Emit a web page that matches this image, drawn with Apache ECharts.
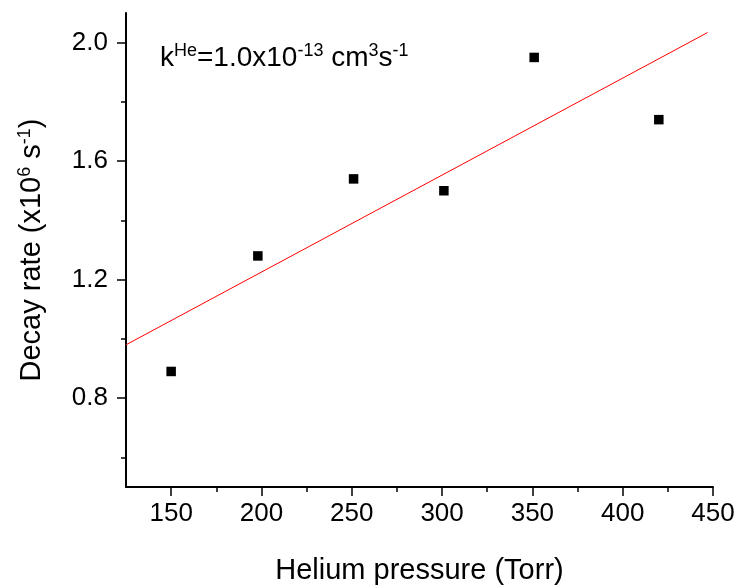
<!DOCTYPE html>
<html>
<head>
<meta charset="utf-8">
<script src="https://cdn.jsdelivr.net/npm/echarts@6/dist/echarts.min.js"></script>
<style>
html,body{margin:0;padding:0;background:#fff;}
#chart{width:739px;height:587px;}
</style>
</head>
<body>
<div id="chart"></div>
<script>
// Data
const pressure = [150, 198, 251, 301, 351, 420];
const decayRate = [0.89, 1.28, 1.54, 1.50, 1.95, 1.74];
const fitX = [125, 447];
const fitY = [0.98, 2.034];

const xMajorTicks = [150, 200, 250, 300, 350, 400, 450];
const xMinorTicks = [175, 225, 275, 325, 375, 425];
const yMajorTicks = [0.8, 1.2, 1.6, 2.0];
const yMinorTicks = [0.6, 1.0, 1.4, 1.8];

const FONT = '"Liberation Sans", Arial, sans-serif';

const scatterData = pressure.map((p, i) => [p, decayRate[i]]);
const fitData = fitX.map((x, i) => [x, fitY[i]]);

const chart = echarts.init(document.getElementById('chart'));
const axisLineStyle = {color: '#000', width: 2};
const tickStyle = {color: '#000', width: 1.5};

chart.setOption({
  animation: false,
  backgroundColor: '#fff',
  title: {
    text: 'k{sup|He}=1.0x10{sup|-13} cm{sup|3}s{sup|-1}',
    left: 160,
    top: 42,
    padding: 0,
    textStyle: {
      fontFamily: FONT, fontSize: 28, fontWeight: 'normal', color: '#000', lineHeight: 32,
      rich: {
        sup: {fontFamily: FONT, fontSize: 18, lineHeight: 14, verticalAlign: 'top', color: '#000'}
      }
    }
  },
  grid: {left: 126, right: 26, top: 13, bottom: 100, containLabel: false, outerBoundsMode: 'none'},
  xAxis: [
    {
      type: 'value', min: 125, max: 450, position: 'bottom',
      axisLine: {show: true, onZero: false, lineStyle: axisLineStyle},
      axisTick: {show: true, length: 9, customValues: xMajorTicks, lineStyle: tickStyle},
      axisLabel: {customValues: xMajorTicks, fontFamily: FONT, fontSize: 26, color: '#000', margin: 14},
      splitLine: {show: false},
      name: 'Helium pressure (Torr)', nameLocation: 'middle', nameGap: 69,
      nameTextStyle: {fontFamily: FONT, fontSize: 29, color: '#000'}
    },
    {
      type: 'value', min: 125, max: 450, position: 'bottom',
      axisLine: {show: false, onZero: false},
      axisTick: {show: true, length: 5, customValues: xMinorTicks, lineStyle: tickStyle},
      axisLabel: {show: false},
      splitLine: {show: false}
    }
  ],
  yAxis: [
    {
      type: 'value', min: 0.5, max: 2.1, position: 'left',
      axisLine: {show: true, onZero: false, lineStyle: axisLineStyle},
      axisTick: {show: true, length: 9, customValues: yMajorTicks, lineStyle: tickStyle},
      axisLabel: {customValues: yMajorTicks, formatter: v => v.toFixed(1), fontFamily: FONT, fontSize: 26, color: '#000', margin: 18},
      splitLine: {show: false},
      name: 'Decay rate (x10{sup|6} s{sup|-1})', nameLocation: 'middle', nameGap: 78,
      nameTextStyle: {
        fontFamily: FONT, fontSize: 29, color: '#000', lineHeight: 32,
        rich: {sup: {fontFamily: FONT, fontSize: 18, lineHeight: 14, verticalAlign: 'top', color: '#000'}}
      }
    },
    {
      type: 'value', min: 0.5, max: 2.1, position: 'left',
      axisLine: {show: false, onZero: false},
      axisTick: {show: true, length: 5, customValues: yMinorTicks, lineStyle: tickStyle},
      axisLabel: {show: false},
      splitLine: {show: false}
    }
  ],
  series: [
    {
      type: 'line', xAxisIndex: 0, yAxisIndex: 0, data: fitData,
      showSymbol: false, symbol: 'none',
      lineStyle: {color: '#ff0000', width: 1}, z: 2, silent: true
    },
    {
      type: 'scatter', xAxisIndex: 0, yAxisIndex: 0, data: scatterData,
      symbol: 'rect', symbolSize: 9.5,
      itemStyle: {color: '#000', opacity: 1}, z: 3
    }
  ]
});
</script>
</body>
</html>
